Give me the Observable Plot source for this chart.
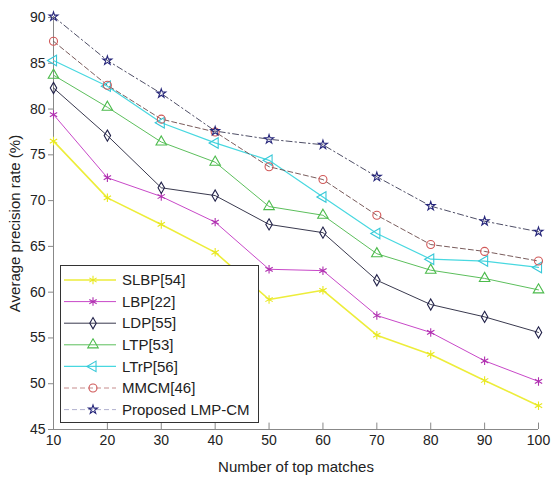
<!DOCTYPE html>
<html><head><meta charset="utf-8">
<script src="https://cdn.jsdelivr.net/npm/d3@7"></script>
<script src="https://cdn.jsdelivr.net/npm/@observablehq/plot@0.6"></script>
<style>
body{margin:0;background:#fff;}
#wrap{position:relative;width:551px;height:477px;font-family:"Liberation Sans",Arial,sans-serif;}
#legend{position:absolute;left:60px;top:265px;}
</style>
</head><body><div id="wrap"></div>
<script>
const topMatches = [10, 20, 30, 40, 50, 60, 70, 80, 90, 100];
const seriesNames = ["SLBP[54]", "LBP[22]", "LDP[55]", "LTP[53]", "LTrP[56]", "MMCM[46]", "Proposed LMP-CM"];
const slbp     = [76.5, 70.3, 67.4, 64.35, 59.2, 60.2, 55.3, 53.2, 50.35, 47.6];
const lbp      = [79.4, 72.5, 70.45, 67.65, 62.5, 62.35, 57.45, 55.6, 52.5, 50.25];
const ldp      = [82.3, 77.1, 71.4, 70.55, 67.4, 66.5, 61.3, 58.65, 57.3, 55.6];
const ltp      = [83.7, 80.2, 76.4, 74.2, 69.35, 68.4, 64.2, 62.4, 61.5, 60.25];
const ltrp     = [85.3, 82.5, 78.5, 76.3, 74.4, 70.4, 66.4, 63.6, 63.4, 62.7];
const mmcm     = [87.4, 82.6, 78.9, 77.5, 73.7, 72.3, 68.4, 65.2, 64.45, 63.4];
const proposed = [90.1, 85.3, 81.7, 77.6, 76.7, 76.1, 72.6, 69.4, 67.75, 66.6];
const xTicks = [10, 20, 30, 40, 50, 60, 70, 80, 90, 100];
const yTicks = [45, 50, 55, 60, 65, 70, 75, 80, 85, 90];

const triangleLeft = {
  draw(context, size) {
    const s3 = Math.sqrt(3);
    const y = -Math.sqrt(size / (s3 * 3));
    context.moveTo(y * 2, 0);
    context.lineTo(-y, -s3 * y);
    context.lineTo(-y, s3 * y);
    context.closePath();
  }
};

const styles = [
  {values: slbp, line: "#eded3a", mark: "#e8e820", dash: null, symbol: "asterisk", sym: d3.symbolAsterisk, width: 1.6, r: 4},
  {values: lbp, line: "#c848c8", mark: "#b030b0", dash: null, symbol: "asterisk", sym: d3.symbolAsterisk, width: 1.0, r: 4},
  {values: ldp, line: "#22223a", mark: "#22224a", dash: null, symbol: "diamond", sym: d3.symbolDiamond, width: 0.9, r: 3.4},
  {values: ltp, line: "#5cbf5c", mark: "#4cbb4c", dash: null, symbol: "triangle", sym: d3.symbolTriangle, width: 1.0, r: 3.9},
  {values: ltrp, line: "#48d8e0", mark: "#38c8d8", dash: null, symbol: triangleLeft, sym: triangleLeft, width: 1.2, r: 3.9},
  {values: mmcm, line: "#6a4a4a", mark: "#d05858", dash: "5,3", symbol: "circle", sym: d3.symbolCircle, width: 0.9, r: 4},
  {values: proposed, line: "#3a3a55", mark: "#26267a", dash: "6,3,1.5,3", symbol: "star", sym: d3.symbolStar, width: 0.9, r: 2.8}
];

const rows = [];
styles.forEach((s, i) => s.values.forEach((v, j) => rows.push({series: seriesNames[i], x: topMatches[j], y: v, i})));

const marks = [];
styles.forEach((s, i) => {
  const d = rows.filter(r => r.i === i);
  marks.push(Plot.line(d, {x: "x", y: "y", stroke: s.line, strokeWidth: s.width, strokeDasharray: s.dash}));
});
styles.forEach((s, i) => {
  const d = rows.filter(r => r.i === i);
  marks.push(Plot.dot(d, {x: "x", y: "y", symbol: () => s.symbol, r: s.r, stroke: s.mark, fill: "none", strokeWidth: 1.1}));
});

const chart = Plot.plot({
  width: 551,
  height: 477,
  marginLeft: 53,
  marginRight: 13,
  marginTop: 17,
  marginBottom: 48,
  style: {fontFamily: '"Liberation Sans", Arial, sans-serif', fontSize: "14px", color: "#222", background: "#fff"},
  x: {domain: [10, 100]},
  y: {domain: [45, 90]},
  symbol: {type: "identity"},
  marks: [
    Plot.axisX(xTicks, {tickSize: 0, tickPadding: 6, fontSize: 14, label: "Number of top matches", labelAnchor: "center", labelArrow: "none", labelOffset: 42}),
    Plot.axisY(yTicks, {tickSize: 5, tickPadding: 3, stroke: "#888", fontSize: 14, label: "Average precision rate (%)", labelAnchor: "center", labelArrow: "none", labelOffset: 44}),
    Plot.ruleX(xTicks, {y1: 45, y2: 45.7, stroke: "#888"}),
    Plot.ruleY([45], {stroke: "#888"}),
    Plot.ruleX([10], {stroke: "#888"}),
    ...marks
  ]
});
chart.querySelectorAll('[aria-label="x-axis label"] text, [aria-label="y-axis label"] text').forEach(t => t.setAttribute("font-size", 15));
document.getElementById("wrap").appendChild(chart);

// Legend
const lg = d3.select("#wrap").append("svg").attr("id", "legend").attr("width", 200).attr("height", 159);
lg.append("rect").attr("x", 0.5).attr("y", 0.5).attr("width", 198).attr("height", 157)
  .attr("fill", "#fff").attr("stroke", "#333").attr("stroke-width", 1);
styles.forEach((s, i) => {
  const y = 15 + i * 21.6;
  lg.append("line").attr("x1", 4).attr("x2", 56).attr("y1", y).attr("y2", y)
    .attr("stroke", s.dash ? (i === 6 ? "#a8a8c8" : "#c08080") : s.line).attr("stroke-width", s.width)
    .attr("stroke-dasharray", s.dash ? "5,3" : null);
  const size = (s.r * s.r) * Math.PI;
  lg.append("path").attr("transform", `translate(33,${y})`)
    .attr("d", d3.symbol(s.sym, size)())
    .attr("fill", "none").attr("stroke", s.mark).attr("stroke-width", 1.1);
  lg.append("text").attr("x", 62).attr("y", y).attr("dy", "0.35em")
    .attr("font-size", 15).attr("fill", "#222").text(seriesNames[i]);
});
</script>
</body></html>
